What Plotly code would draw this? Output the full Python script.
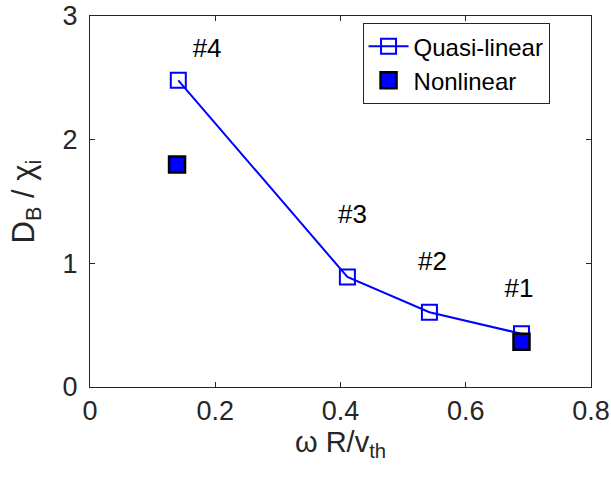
import plotly.graph_objects as go

x_ql = [0.141, 0.411, 0.542, 0.689]
y_ql = [2.48, 0.89, 0.605, 0.43]
x_nl = [0.139, 0.689]
y_nl = [1.80, 0.365]
lab_x = [0.187, 0.419, 0.547, 0.685]
lab_y = [2.72, 1.38, 1.0, 0.78]
labels = ["#4", "#3", "#2", "#1"]

font = "Liberation Sans, Arial, Helvetica, sans-serif"
axcol = "#262626"
nb = "\u00a0"

fig = go.Figure()
fig.add_trace(go.Scatter(x=x_ql, y=y_ql, mode="lines+markers", name="Quasi-linear",
                         line=dict(color="#0000ff", width=2),
                         marker=dict(symbol="square-open", size=15, color="#0000ff",
                                     line=dict(width=2, color="#0000ff"))))
fig.add_trace(go.Scatter(x=x_nl, y=y_nl, mode="markers", name="Nonlinear",
                         marker=dict(symbol="square", size=16, color="#0000ff",
                                     line=dict(width=2.5, color="black"))))
fig.add_trace(go.Scatter(x=lab_x, y=lab_y, mode="text", text=labels, showlegend=False,
                         textfont=dict(family=font, size=26, color="black"),
                         textposition="middle center"))

axis_common = dict(showline=True, linecolor=axcol, linewidth=1, mirror="ticks",
                   ticks="inside", ticklen=5, tickcolor=axcol, showgrid=False,
                   zeroline=False, automargin=False,
                   tickfont=dict(family=font, size=27, color=axcol))

fig.update_layout(
    width=611, height=481,
    margin=dict(l=90, r=20, t=16, b=94),
    plot_bgcolor="white", paper_bgcolor="white",
    xaxis=dict(range=[0, 0.8], tickvals=[0, 0.2, 0.4, 0.6, 0.8],
               ticktext=["0", "0.2", "0.4", "0.6", "0.8"],
               title=dict(text="ω R/v<sub>th</sub>", font=dict(family=font, size=29, color=axcol),
                          standoff=6),
               **axis_common),
    yaxis=dict(range=[0, 3], tickvals=[0, 1, 2, 3], ticklabelstandoff=6,
               title=dict(text="D<sub>B</sub>" + nb + "/" + nb + "χ<sub>i</sub>",
                          font=dict(family=font, size=31, color=axcol),
                          standoff=18),
               **axis_common),
    legend=dict(x=0.544, y=0.981, xanchor="left", yanchor="top",
                bgcolor="white", bordercolor=axcol, borderwidth=1, itemwidth=40,
                font=dict(family=font, size=24, color="black"), tracegroupgap=0),
    showlegend=True,
)

# remove the default 8px page margin so the figure sits at the window's top-left corner
fig.write_html("out.html", config={"displayModeBar": False},
               post_script="document.body.style.margin='0px';")
